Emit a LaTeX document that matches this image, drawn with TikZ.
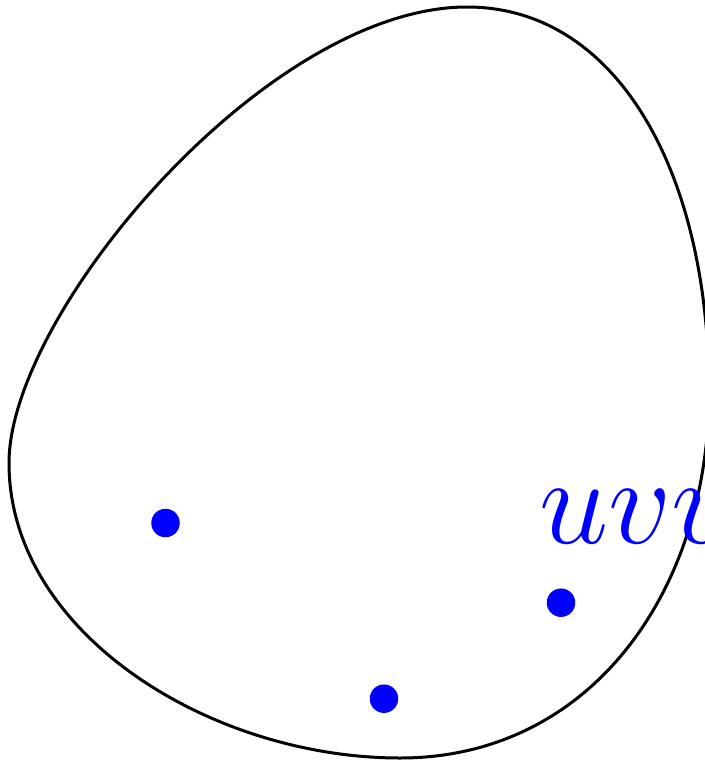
\documentclass[tikz,border=0pt]{standalone}
\begin{document}
\begin{tikzpicture}[x=0.2pt,y=-0.2pt,
  curve/.style={draw=black,line width=0.6pt},
  bluedot/.style={circle,fill=blue,inner sep=0pt,minimum size=5.7pt},
  lbl/.style={text=blue,inner sep=0pt,anchor=base west,font=\fontsize{27.6}{30}\selectfont}]
\useasboundingbox (0,0) rectangle (705,761);
\clip (0,0) rectangle (705,761);
\coordinate (T) at (467,7);
\coordinate (R) at (709,392);
\coordinate (B) at (400,758);
\coordinate (L) at (9,463);
\draw[curve] (T) .. controls (617,7) and (709,172) .. (R)
  .. controls (709,592) and (590,758) .. (B)
  .. controls (210,758) and (9,633) .. (L)
  .. controls (9,313) and (267,7) .. (T) -- cycle;
\node[bluedot] (d1) at (165.5,523) {};
\node[bluedot] (d2) at (561,602.7) {};
\node[bluedot] (d3) at (384,698.7) {};
\node[lbl] (t) at (538,543) {$uvw$};
\end{tikzpicture}
\end{document}
